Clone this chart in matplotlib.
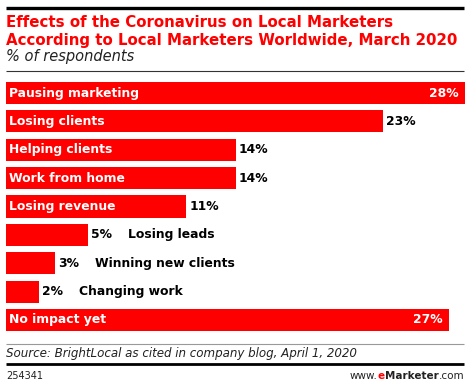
import matplotlib.pyplot as plt
from matplotlib.lines import Line2D

# data
categories = ["Pausing marketing", "Losing clients", "Helping clients", "Work from home",
              "Losing revenue", "Losing leads", "Winning new clients", "Changing work",
              "No impact yet"]
values = [28, 23, 14, 14, 11, 5, 3, 2, 27]
label_inside = [True, True, True, True, True, False, False, False, True]
value_inside = [True, False, False, False, False, False, False, False, True]

W, H = 470, 385
RED = "#ff0000"

fig = plt.figure(figsize=(W / 100, H / 100), dpi=100)


def fx(px):
    return px / W


def fy(py):
    # pixels from top -> figure fraction
    return 1 - py / H


def hline(y, x0, x1, lw, color):
    fig.add_artist(Line2D([fx(x0), fx(x1)], [fy(y), fy(y)], lw=lw, color=color,
                          transform=fig.transFigure, solid_capstyle="butt"))


# header
hline(7.5, 6, 464, 2.4, "black")
fig.text(fx(6), fy(27), "Effects of the Coronavirus on Local Marketers",
         color=RED, fontsize=10.8, fontweight="bold", va="baseline")
fig.text(fx(6), fy(44.5), "According to Local Marketers Worldwide, March 2020",
         color=RED, fontsize=10.8, fontweight="bold", va="baseline")
fig.text(fx(6), fy(61.5), "% of respondents", color="#222222", fontsize=10.5,
         style="italic", va="baseline")
hline(70.5, 6, 464, 0.8, "#333333")

# bars
ax = fig.add_axes([fx(6), fy(331), fx(459), (331 - 82) / H])
ypos = list(range(len(categories)))
ax.barh(ypos, values, height=0.78, color=RED, edgecolor="none")
ax.set_xlim(0, 28)
ax.set_ylim(8.39, -0.39)
ax.axis("off")

fs = 8.9
for i, (cat, v) in enumerate(zip(categories, values)):
    if value_inside[i]:
        ax.annotate(f"{v}%", (v, i), xytext=(-6, 0), textcoords="offset pixels",
                    ha="right", va="center", color="white", fontsize=fs, fontweight="bold")
    else:
        ax.annotate(f"{v}%", (v, i), xytext=(3, 0), textcoords="offset pixels",
                    ha="left", va="center", color="black", fontsize=fs, fontweight="bold")
    if label_inside[i]:
        ax.annotate(cat, (0, i), xytext=(3, 0), textcoords="offset pixels",
                    ha="left", va="center", color="white", fontsize=fs, fontweight="bold")
    else:
        ax.annotate(cat, (v, i), xytext=(40, 0), textcoords="offset pixels",
                    ha="left", va="center", color="black", fontsize=fs, fontweight="bold")

# footer
hline(344, 6, 464, 0.8, "#999999")
fig.text(fx(6), fy(357), "Source: BrightLocal as cited in company blog, April 1, 2020",
         color="#222222", fontsize=8.6, style="italic", va="baseline")
hline(364, 6, 464, 2.0, "black")
fig.text(fx(6), fy(379), "254341", color="#222222", fontsize=7, va="baseline")

# www.eMarketer.com, built right to left
renderer = fig.canvas.get_renderer()
pieces = [("www.", "#222222", "normal"), ("e", RED, "bold"),
          ("Marketer", "#222222", "bold"), (".com", "#222222", "normal")]
x = 464
for txt, col, wt in reversed(pieces):
    t = fig.text(fx(x), fy(379), txt, color=col, fontsize=7.5, fontweight=wt,
                 ha="right", va="baseline")
    x -= t.get_window_extent(renderer).width

fig.savefig("out.png", dpi=100)
